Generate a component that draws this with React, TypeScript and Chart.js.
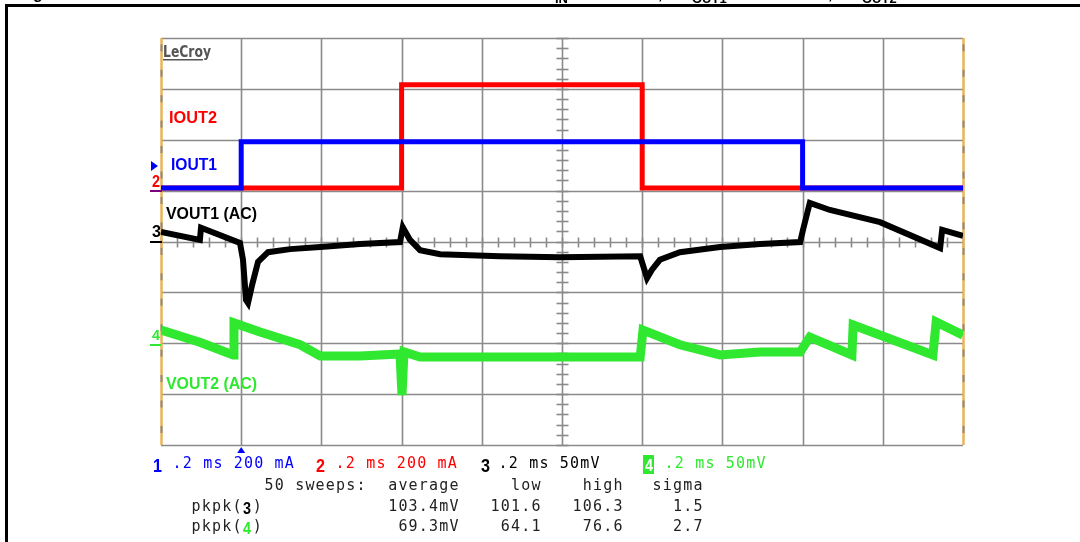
import React, { useEffect, useRef } from "react";
import { Chart, registerables } from "chart.js";

Chart.register(...registerables);

// Time axis (ms) grid divisions and vertical divisions
const timeTicks = [0, 0.2, 0.4, 0.6, 0.8, 1.0, 1.2, 1.4, 1.6, 1.8, 2.0];
const divTicks = [0, 1, 2, 3, 4, 5, 6, 7, 8];

// IOUT1 (blue) – screen divisions
const iout1T = [0, 0.2, 0.2, 1.6, 1.6, 2.0];
const iout1V = [5.05, 5.05, 5.96, 5.96, 5.05, 5.05];

// IOUT2 (red)
const iout2T = [0, 0.6, 0.6, 1.2, 1.2, 2.0];
const iout2V = [5.05, 5.05, 7.08, 7.08, 5.05, 5.05];

// VOUT1 (AC) black
const vout1T = [0, 0.097, 0.0998, 0.197, 0.2045, 0.212, 0.217, 0.227, 0.242, 0.267, 0.322, 0.397, 0.496, 0.596, 0.603, 0.621, 0.646, 0.696, 0.845, 0.995, 1.195, 1.204, 1.212, 1.224, 1.244, 1.294, 1.394, 1.494, 1.594, 1.601, 1.618, 1.668, 1.793, 1.943, 1.948, 2.0];
const vout1V = [4.19, 4.03, 4.27, 3.97, 3.64, 2.85, 2.79, 3.14, 3.6, 3.79, 3.85, 3.89, 3.95, 3.99, 4.28, 4.03, 3.83, 3.75, 3.71, 3.69, 3.71, 3.48, 3.28, 3.44, 3.64, 3.79, 3.89, 3.95, 3.99, 4.23, 4.76, 4.62, 4.38, 3.87, 4.23, 4.11];

// VOUT2 (AC) green
const vout2T = [0, 0.097, 0.18, 0.182, 0.247, 0.347, 0.397, 0.496, 0.596, 0.601, 0.606, 0.646, 0.845, 1.195, 1.202, 1.294, 1.394, 1.494, 1.594, 1.618, 1.723, 1.726, 1.925, 1.933, 2.0];
const vout2V = [2.26, 2.02, 1.77, 2.4, 2.22, 1.97, 1.75, 1.75, 1.79, 0.98, 1.83, 1.73, 1.73, 1.73, 2.26, 1.97, 1.77, 1.83, 1.83, 2.12, 1.77, 2.36, 1.77, 2.42, 2.16];

// Channel setup texts
const chanLabels = ["1", "2", "3", "4"];
const chanSettings = [".2 ms 200 mA", ".2 ms 200 mA", ".2 ms 50mV", ".2 ms 50mV"];
const statHeader = ["average", "low", "high", "sigma"];
const statRowNames = ["3", "4"];
const statRows = [
  ["103.4mV", "101.6", "106.3", "1.5"],
  ["69.3mV", "64.1", "76.6", "2.7"],
];

const BLUE = "#0000ff";
const RED = "#ff0000";
const GREEN = "#2fe82f";
const BLACK = "#000000";
const GRID = "#8a8a8a";
const ORANGE = "#ffb22a";

const toPts = (t: number[], v: number[]) => t.map((x, i) => ({ x, y: v[i] }));

const PITCH = 10.2;
const MONO = '15px "DejaVu Sans Mono", "Liberation Mono", monospace';

function drawMono(ctx: CanvasRenderingContext2D, s: string, x: number, y: number, color: string) {
  ctx.save();
  ctx.font = MONO;
  ctx.fillStyle = color;
  ctx.textAlign = "center";
  ctx.textBaseline = "middle";
  for (let i = 0; i < s.length; i++) {
    const ch = s[i];
    if (ch !== " ") ctx.fillText(ch, x + i * PITCH + PITCH / 2, y);
  }
  ctx.restore();
}

function fitText(ctx: CanvasRenderingContext2D, s: string, x: number, y: number, w: number, font: string, color: string) {
  ctx.save();
  ctx.font = font;
  ctx.fillStyle = color;
  ctx.textAlign = "left";
  ctx.textBaseline = "alphabetic";
  const mw = ctx.measureText(s).width;
  ctx.translate(x, y);
  ctx.scale(w / mw, 1);
  ctx.fillText(s, 0, 0);
  ctx.restore();
}

const scopePlugin = {
  id: "scopeDecor",
  beforeDatasetsDraw(chart: any) {
    const ctx: CanvasRenderingContext2D = chart.ctx;
    const xs = chart.scales.x;
    const ys = chart.scales.y;
    const top = ys.getPixelForValue(8);
    const bottom = ys.getPixelForValue(0);
    const left = xs.getPixelForValue(0);
    const right = xs.getPixelForValue(2);
    ctx.save();
    ctx.strokeStyle = GRID;
    ctx.lineWidth = 1.6;
    timeTicks.forEach((t) => {
      const px = Math.round(xs.getPixelForValue(t)) + 0.5;
      ctx.beginPath();
      ctx.moveTo(px, top);
      ctx.lineTo(px, bottom);
      ctx.stroke();
    });
    divTicks.forEach((d) => {
      const py = Math.round(ys.getPixelForValue(d)) + 0.5;
      ctx.beginPath();
      ctx.moveTo(left, py);
      ctx.lineTo(right, py);
      ctx.stroke();
    });
    // centre cross minor ticks
    const cx = Math.round(xs.getPixelForValue(1.0)) + 0.5;
    const cy = Math.round(ys.getPixelForValue(4)) + 0.5;
    for (let d = 0; d <= 40; d++) {
      const py = Math.round(ys.getPixelForValue(d / 5)) + 0.5;
      ctx.beginPath();
      ctx.moveTo(cx - 6, py);
      ctx.lineTo(cx + 6, py);
      ctx.stroke();
    }
    for (let d = 0; d <= 50; d++) {
      const px = Math.round(xs.getPixelForValue(d * 0.04)) + 0.5;
      ctx.beginPath();
      ctx.moveTo(px, cy - 5);
      ctx.lineTo(px, cy + 5);
      ctx.stroke();
    }
    // orange side edges with grey dashes
    [left, right].forEach((ex) => {
      const px = Math.round(ex) + 0.5;
      ctx.strokeStyle = ORANGE;
      ctx.lineWidth = 2;
      ctx.beginPath();
      ctx.moveTo(px, top);
      ctx.lineTo(px, bottom);
      ctx.stroke();
      ctx.strokeStyle = GRID;
      const step = (bottom - top) / 16;
      for (let k = 0; k < 16; k++) {
        const y0 = top + k * step + step * 0.25;
        ctx.beginPath();
        ctx.moveTo(px, y0);
        ctx.lineTo(px, y0 + 7);
        ctx.stroke();
      }
    });
    ctx.restore();
  },
  afterDraw(chart: any) {
    const ctx: CanvasRenderingContext2D = chart.ctx;
    const xs = chart.scales.x;
    ctx.save();
    // outer frame
    ctx.fillStyle = "#000";
    ctx.fillRect(5, 4, 1075, 3);
    ctx.fillRect(5, 4, 3, 538);
    // clipped title fragments
    ctx.font = 'bold 16px "Liberation Sans", Arial, sans-serif';
    ctx.textBaseline = "alphabetic";
    ctx.fillText("g", 33, -1);
    ctx.fillText(",", 658, -1);
    ctx.fillText(",", 828, -1);
    ctx.font = 'bold 13px "Liberation Sans", Arial, sans-serif';
    ctx.fillText("IN", 555, 3);
    ctx.fillText("OUT1", 692, 3);
    ctx.fillText("OUT2", 862, 3);

    // LeCroy logo
    fitText(ctx, "LeCroy", 163, 57, 48, 'bold 15px "DejaVu Sans", sans-serif', "#555555");
    ctx.fillStyle = "#555555";
    ctx.fillRect(163, 59, 40, 1.5);

    // trace labels
    const lf = 'bold 16px "Liberation Sans", Arial, sans-serif';
    fitText(ctx, "IOUT2", 169, 123, 48, lf, RED);
    fitText(ctx, "IOUT1", 171, 170, 46, lf, BLUE);
    fitText(ctx, "VOUT1 (AC)", 166, 219, 91, lf, BLACK);
    fitText(ctx, "VOUT2 (AC)", 166, 389, 91, lf, GREEN);

    // left channel markers
    ctx.fillStyle = BLUE;
    ctx.beginPath();
    ctx.moveTo(151, 161);
    ctx.lineTo(158, 166);
    ctx.lineTo(151, 171);
    ctx.closePath();
    ctx.fill();
    fitText(ctx, "2", 152, 187, 8, 'bold 17px "Liberation Sans", Arial, sans-serif', RED);
    ctx.fillStyle = "#800080";
    ctx.fillRect(150, 190, 12, 2);
    fitText(ctx, "3", 152, 237, 9, 'bold 17px "Liberation Sans", Arial, sans-serif', BLACK);
    ctx.fillStyle = BLACK;
    ctx.fillRect(150, 241, 12, 2);
    fitText(ctx, "4", 152, 340, 8, 'bold 15px "Liberation Sans", Arial, sans-serif', GREEN);
    ctx.fillStyle = GREEN;
    ctx.fillRect(150, 344, 11, 2);

    // trigger marker
    const tx = xs.getPixelForValue(0.2);
    ctx.fillStyle = BLUE;
    ctx.beginPath();
    ctx.moveTo(tx, 447);
    ctx.lineTo(tx - 4, 453);
    ctx.lineTo(tx + 4, 453);
    ctx.closePath();
    ctx.fill();

    // channel settings row
    const cColors = [BLUE, RED, BLACK, GREEN];
    const numX = [153, 316, 481, 643];
    const setX = [172, 335, 498, 664];
    const rowY = 464;
    chanLabels.forEach((lab, i) => {
      if (i === 3) {
        ctx.fillStyle = GREEN;
        ctx.fillRect(numX[i], rowY - 9, 11, 19);
        fitText(ctx, lab, numX[i] + 2, rowY + 7, 8, 'bold 17px "Liberation Sans", Arial, sans-serif', "#ffffff");
      } else {
        fitText(ctx, lab, numX[i], rowY + 8, 9, 'bold 19px "Liberation Sans", Arial, sans-serif', cColors[i]);
      }
      drawMono(ctx, chanSettings[i], setX[i], rowY, cColors[i]);
    });

    // statistics
    const colEnds = [459, 541, 623, 703];
    const r2 = 486;
    drawMono(ctx, "50 sweeps:", 264, r2, "#222");
    statHeader.forEach((h, i) => drawMono(ctx, h, colEnds[i] - h.length * PITCH, r2, "#222"));
    const rowYs = [507, 527];
    const rowColors = [BLACK, GREEN];
    statRows.forEach((row, r) => {
      const y = rowYs[r];
      drawMono(ctx, "pkpk(", 191, y, "#222");
      fitText(ctx, statRowNames[r], 191 + 5 * PITCH + 1, y + 7, 8, 'bold 16px "Liberation Sans", Arial, sans-serif', rowColors[r]);
      drawMono(ctx, ")", 191 + 6 * PITCH, y, "#222");
      row.forEach((v, i) => drawMono(ctx, v, colEnds[i] - v.length * PITCH, y, "#222"));
    });
    ctx.restore();
  },
};

export default function App() {
  const ref = useRef<HTMLCanvasElement | null>(null);
  useEffect(() => {
    document.body.style.margin = "0";
    const canvas = ref.current!;
    const chart = new Chart(canvas, {
      type: "scatter",
      data: {
        datasets: [
          { label: "VOUT1", data: toPts(vout1T, vout1V), borderColor: BLACK, borderWidth: 6, order: 3 },
          { label: "VOUT2", data: toPts(vout2T, vout2V), borderColor: GREEN, borderWidth: 9, order: 4 },
          { label: "IOUT2", data: toPts(iout2T, iout2V), borderColor: RED, borderWidth: 5, order: 2 },
          { label: "IOUT1", data: toPts(iout1T, iout1V), borderColor: BLUE, borderWidth: 5, order: 1 },
        ].map((d) => ({ ...d, showLine: true, pointRadius: 0, tension: 0, fill: false, borderJoinStyle: "miter" as const })),
      },
      options: {
        animation: false,
        responsive: false,
        devicePixelRatio: 1,
        layout: { padding: { left: 161, top: 38, right: 117, bottom: 97 } },
        plugins: { legend: { display: false }, tooltip: { enabled: false } },
        scales: {
          x: { type: "linear", min: 0, max: 2, display: false },
          y: { type: "linear", min: 0, max: 8, display: false },
        },
      },
      plugins: [scopePlugin],
    });
    return () => chart.destroy();
  }, []);
  return (
    <div style={{ position: "fixed", left: 0, top: 0, width: 1080, height: 542, background: "#fff" }}>
      <canvas ref={ref} width={1080} height={542} style={{ width: 1080, height: 542 }} />
    </div>
  );
}
